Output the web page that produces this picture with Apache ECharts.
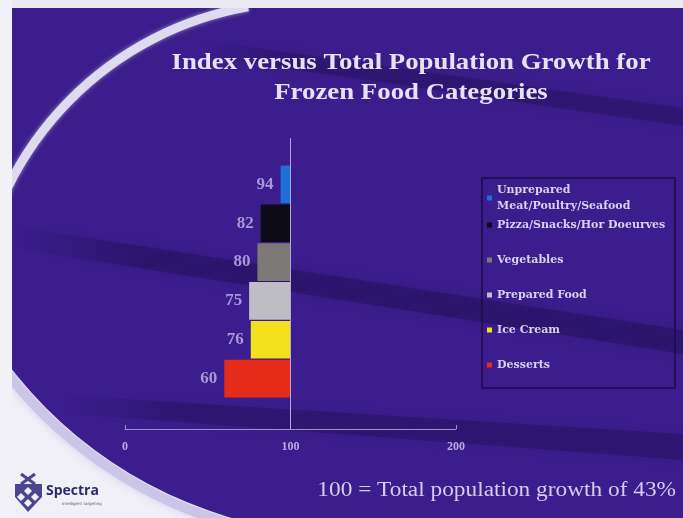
<!DOCTYPE html>
<html>
<head>
<meta charset="utf-8">
<script src="https://cdn.jsdelivr.net/npm/echarts@6/dist/echarts.min.js"></script>
<style>
html,body{margin:0;padding:0;background:#3b1d8d;}
#chart{width:683px;height:518px;}
</style>
</head>
<body>
<div id="chart"></div>
<script>
// ---- data ----
const categories = ['Unprepared\nMeat/Poultry/Seafood', 'Pizza/Snacks/Hor Doeurves', 'Vegetables', 'Prepared Food', 'Ice Cream', 'Desserts'];
const indexValues = [94, 82, 80, 75, 76, 60];
const baselineValue = 100;
const xTickValues = [0, 100, 200];
const barColors = ['#1f6fd9', '#0d0b16', '#7c7977', '#bebdc4', '#f3e11d', '#e62b19'];
const titleText = 'Index versus Total Population Growth for\nFrozen Food Categories';
const footnote = '100 = Total population growth of 43%';

const chart = echarts.init(document.getElementById('chart'), null, {renderer: 'canvas'});
const BG = '#3b1d8d';
const STRETCH = 1.166;

function stripeFill(alpha) {
  return new echarts.graphic.LinearGradient(0, 0, 1, 0, [
    {offset: 0, color: 'rgba(22,10,66,0)'},
    {offset: 0.2, color: 'rgba(22,10,66,' + alpha + ')'},
    {offset: 1, color: 'rgba(22,10,66,' + alpha + ')'}
  ]);
}

const baseSeries = {
  name: 'base', type: 'bar', stack: 'idx', data: indexValues,
  barCategoryGap: '3%', silent: true,
  itemStyle: {color: 'transparent'},
  emphasis: {disabled: true},
  markLine: {
    silent: true, symbol: ['none', 'none'],
    label: {show: false},
    lineStyle: {color: '#b3a6e0', width: 1, type: 'solid'},
    data: [[{xAxis: baselineValue, y: 138}, {xAxis: baselineValue, y: 429}]]
  }
};
const coloredSeries = categories.map((name, i) => ({
  name: name, type: 'bar', stack: 'idx', barCategoryGap: '3%',
  data: indexValues.map((v, j) => j === i ? baselineValue - v : '-'),
  itemStyle: {color: barColors[i]},
  emphasis: {disabled: true},
  label: {
    show: true, position: 'left', distance: 7,
    formatter: () => String(indexValues[i]),
    color: '#a898d8', fontFamily: 'Liberation Serif', fontWeight: 'bold', fontSize: 17
  }
}));

const legendText = {color: '#d8d2ee', fontFamily: 'DejaVu Serif', fontWeight: 'bold', fontSize: 11, lineHeight: 16};

const option = {
  backgroundColor: BG,
  animation: false,
  legend: [
    {
      data: categories.slice(0, 2), orient: 'vertical', left: 482, top: 177,
      itemWidth: 5, itemHeight: 5, itemGap: 3, icon: 'rect',
      textStyle: legendText, selectedMode: false
    },
    {
      data: categories.slice(2), orient: 'vertical', left: 482, top: 247,
      itemWidth: 5, itemHeight: 5, itemGap: 19, icon: 'rect',
      textStyle: legendText, selectedMode: false
    }
  ],
  grid: {left: 125, right: 227, top: 165, bottom: 120, containLabel: false},
  xAxis: {
    type: 'value', min: xTickValues[0], max: xTickValues[xTickValues.length - 1],
    interval: xTickValues[1] - xTickValues[0], offset: 31,
    axisLine: {show: true, lineStyle: {color: '#9d90cc', width: 1}},
    axisTick: {show: true, inside: true, length: 4, lineStyle: {color: '#9d90cc'}},
    axisLabel: {color: '#b8acde', fontFamily: 'Liberation Serif', fontWeight: 'bold', fontSize: 12, margin: 12},
    splitLine: {show: false}
  },
  yAxis: {
    type: 'category', data: categories, inverse: true,
    axisLine: {show: false}, axisTick: {show: false}, axisLabel: {show: false}, splitLine: {show: false}
  },
  graphic: [
    // bottom-left white area
    {type: 'rect', z: -10, shape: {x: 0, y: 300, width: 300, height: 218}, style: {fill: '#f1f0f7'}},
    {type: 'arc', z: -9, shape: {cx: 352, cy: 103, r: 438, startAngle: Math.PI * 0.55, endAngle: Math.PI}, style: {stroke: 'rgba(200,194,230,0.85)', lineWidth: 10, fill: null, shadowBlur: 8, shadowColor: 'rgba(200,194,230,0.8)'}},
    {type: 'sector', z: -8, shape: {cx: 352, cy: 103, r: 432, r0: 0, startAngle: Math.PI / 2, endAngle: Math.PI}, style: {fill: BG}},
    // dark diagonal stripes
    {type: 'polygon', z: -7, shape: {points: [[12, 226], [683, 330], [683, 354], [12, 248]]}, style: {fill: stripeFill(0.35), shadowBlur: 16, shadowColor: 'rgba(22,10,66,0.5)'}},
    {type: 'polygon', z: -7, shape: {points: [[60, 395], [683, 434], [683, 460], [60, 413]]}, style: {fill: stripeFill(0.3), shadowBlur: 16, shadowColor: 'rgba(22,10,66,0.4)'}},
    {type: 'polygon', z: -7, shape: {points: [[200, 40], [683, 108], [683, 126], [200, 56]]}, style: {fill: stripeFill(0.3), shadowBlur: 16, shadowColor: 'rgba(22,10,66,0.4)'}},
    // top-left white arc band
    {type: 'arc', z: -6, shape: {cx: 305, cy: 333, r: 331, startAngle: Math.PI * 1.05, endAngle: Math.PI * 1.445}, style: {stroke: '#dedaf0', lineWidth: 9, fill: null, shadowBlur: 4, shadowColor: 'rgba(255,255,255,0.5)'}},
    // frame strips
    {type: 'rect', z: -5, shape: {x: 0, y: 0, width: 683, height: 8}, style: {fill: '#ecebf2'}},
    {type: 'rect', z: -5, shape: {x: 0, y: 0, width: 12, height: 518}, style: {fill: '#f2f1f7'}},
    // legend frame
    {type: 'rect', z: 1, shape: {x: 482, y: 178, width: 193, height: 210}, style: {fill: null, stroke: '#1c0c48', lineWidth: 1.5}},
    // title
    {type: 'text', z: 5, x: 411, y: 78, scaleX: STRETCH, style: {text: titleText, align: 'center', verticalAlign: 'middle', fill: '#e6e2f3', font: 'bold 23px "Liberation Serif"', lineHeight: 30}},
    // footnote
    {type: 'text', z: 5, x: 676, y: 491, scaleX: STRETCH, style: {text: footnote, align: 'right', verticalAlign: 'middle', fill: '#d4cdec', font: '20px "Liberation Serif"'}},
    // Spectra logo
    {type: 'polygon', z: 5, shape: {points: [[15, 484], [42, 484], [42, 497], [28, 512], [15, 497]]}, style: {fill: '#4c4590'}},
    {type: 'polygon', z: 6, shape: {points: [[28, 487], [32, 491], [28, 495], [24, 491]]}, style: {fill: '#f1f0f7'}},
    {type: 'polygon', z: 6, shape: {points: [[21, 493], [25, 497], [21, 501], [17, 497]]}, style: {fill: '#f1f0f7'}},
    {type: 'polygon', z: 6, shape: {points: [[35, 493], [39, 497], [35, 501], [31, 497]]}, style: {fill: '#f1f0f7'}},
    {type: 'polygon', z: 6, shape: {points: [[28, 499], [32, 503], [28, 507], [24, 503]]}, style: {fill: '#f1f0f7'}},
    {type: 'line', z: 5, shape: {x1: 21, y1: 474, x2: 35, y2: 484}, style: {stroke: '#4c4590', lineWidth: 3}},
    {type: 'line', z: 5, shape: {x1: 35, y1: 474, x2: 21, y2: 484}, style: {stroke: '#4c4590', lineWidth: 3}},
    {type: 'text', z: 5, x: 46, y: 491, style: {text: 'Spectra', verticalAlign: 'middle', fill: '#2d2b6e', font: 'bold 14px "Open Sans"'}},
    {type: 'text', z: 5, x: 62, y: 504, style: {text: 'intelligent targeting', verticalAlign: 'middle', fill: '#5a5870', font: '4px "DejaVu Sans"'}}
  ],
  series: [baseSeries].concat(coloredSeries)
};
chart.setOption(option);
</script>
</body>
</html>
